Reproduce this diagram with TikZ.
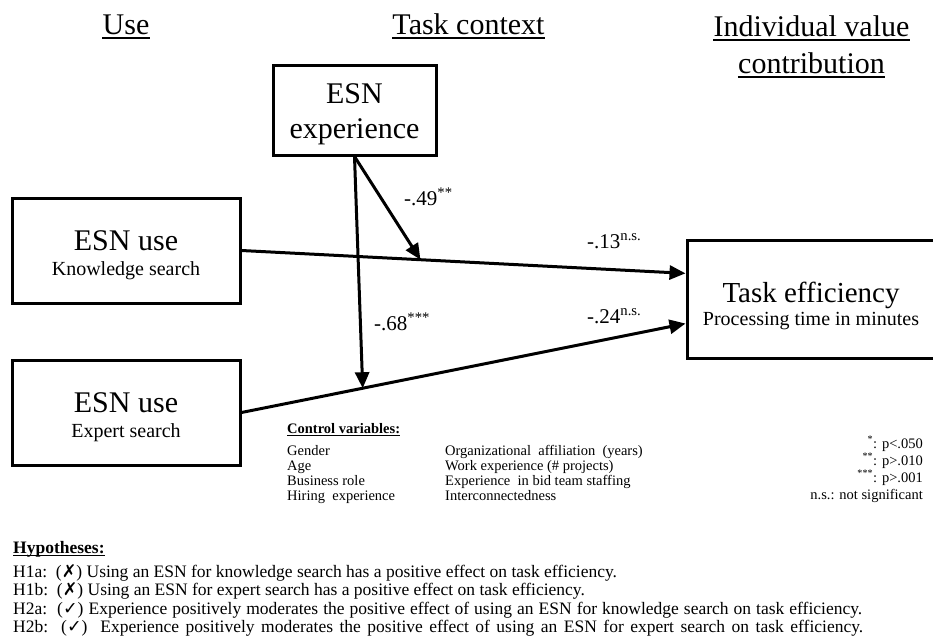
\documentclass[tikz,border=0pt]{standalone}
\usepackage{fontspec}
\setmainfont{Liberation Serif}
\newfontfamily\symfont{DejaVu Sans}
\usetikzlibrary{arrows.meta,calc}

\begin{document}
\begin{tikzpicture}[x=1pt,y=-1pt,
  box/.style={draw,line width=3pt,inner sep=0pt},
  txt/.style={inner sep=0pt,anchor=base},
  txtl/.style={inner sep=0pt,anchor=base west},
  txtr/.style={inner sep=0pt,anchor=base east},
  big/.style={font=\fontsize{30}{36}\selectfont},
  mid/.style={font=\fontsize{20}{24}\selectfont},
  coef/.style={txtl,font=\fontsize{21}{25}\selectfont},
  small/.style={font=\fontsize{14.5}{17}\selectfont},
  hyp/.style={font=\fontsize{17.5}{19}\selectfont},
  link/.style={line width=3pt,-{Triangle[length=16pt,width=14pt]}},
  uline/.style={line width=1.3pt}]
\useasboundingbox (0,0) rectangle (933,637);

% column headings
\node[txt,big] (hUse) at (126,34) {Use};
\node[txt,big] (hTask) at (468.5,34) {Task context};
\node[txt,big] (hInd1) at (811.5,36) {Individual value};
\node[txt,big] (hInd2) at (811.5,73) {contribution};
\foreach \h in {hUse,hTask,hInd1,hInd2}
  \draw[uline] ([yshift=-4pt]\h.base west) -- ([yshift=-4pt]\h.base east);

% construct boxes
\node[box,minimum width=228pt,minimum height=105pt] (ks) at (126,250.5) {};
\node[box,minimum width=228pt,minimum height=105pt] (es) at (126,412.5) {};
\node[box,minimum width=163pt,minimum height=90pt] (ex) at (354.5,110) {};
\node[box,minimum width=260pt,minimum height=118pt] (te) at (817,299) {};

% box texts
\node[txt,big] (ksA) at (126,250) {ESN use};
\node[txt,mid] (ksB) at (126,275) {Knowledge search};
\node[txt,big] (esA) at (126,412) {ESN use};
\node[txt,mid] (esB) at (126,437) {Expert search};
\node[txt,big] (exA) at (354.5,103) {ESN};
\node[txt,big] (exB) at (354.5,138) {experience};
\node[txt,font=\fontsize{29}{34}\selectfont] (teA) at (811,302) {Task efficiency};
\node[txt,mid] (teB) at (811,325) {Processing time in minutes};

% paths
\coordinate (kin) at ($(te.north west)!0.288!(te.south west)$);
\coordinate (ein) at ($(te.north west)!0.703!(te.south west)$);
\draw[link] (ks.east) -- (kin);
\draw[link] (es.east) -- (ein);
\coordinate (km) at ($(ks.east)!0.403!(kin)$);
\coordinate (em) at ($(es.east)!0.273!(ein)$);
\draw[link] (ex.south) -- (km);
\draw[link] (ex.south) -- (em);

% path coefficients
\node[coef] (c49) at (404,205) {-.49\textsuperscript{**}};
\node[coef] (c13) at (587,248) {-.13\textsuperscript{n.s.}};
\node[coef] (c24) at (587,323) {-.24\textsuperscript{n.s.}};
\node[coef] (c68) at (374,330) {-.68\textsuperscript{***}};

% control variables
\node[txtl,small] (cvH) at (287,433) {\textbf{Control variables:}};
\draw[uline,line width=0.8pt] ([yshift=-2pt]cvH.base west) -- ([yshift=-2pt]cvH.base east);
\node[txtl,small] (cv1) at (287,455) {Gender};
\node[txtl,small] (cv2) at (287,470) {Age};
\node[txtl,small] (cv3) at (287,485) {Business role};
\node[txtl,small] (cv4) at (287,500) {Hiring\ \ experience};
\node[txtl,small] (cv5) at (445,455) {Organizational\ \ affiliation\ \ (years)};
\node[txtl,small] (cv6) at (445,470) {Work experience (\# projects)};
\node[txtl,small] (cv7) at (445,485) {Experience\ \ in bid team staffing};
\node[txtl,small] (cv8) at (445,500) {Interconnectedness};

% significance levels
\node[txtr,small] (s1) at (923,448) {\textsuperscript{*}: p<.050};
\node[txtr,small] (s2) at (923,465) {\textsuperscript{**}: p>.010};
\node[txtr,small] (s3) at (923,482) {\textsuperscript{***}: p>.001};
\node[txtr,small] (s4) at (923,499) {n.s.: not significant};

% hypotheses
\node[txtl,hyp] (hyH) at (13,553) {\textbf{Hypotheses:}};
\draw[uline,line width=0.9pt] ([yshift=-2pt]hyH.base west) -- ([yshift=-2pt]hyH.base east);
\node[txtl,hyp] (h1a) at (13,577) {H1a:\ \ ({\symfont\char"2717}) Using an ESN for knowledge search has a positive effect on task efficiency.};
\node[txtl,hyp] (h1b) at (13,595) {H1b:\ \ ({\symfont\char"2717}) Using an ESN for expert search has a positive effect on task efficiency.};
\node[txtl,hyp] (h2a) at (13,614) {\hbox to 849pt{H2a:\ \ ({\symfont\char"2713}) Experience positively moderates the positive effect of using an ESN for knowledge search on task efficiency.}};
\node[txtl,hyp] (h2b) at (13,632) {\hbox to 850pt{H2b:\ \ ({\symfont\char"2713})\ \ Experience positively moderates the positive effect of using an ESN for expert search on task efficiency.}};
\end{tikzpicture}
\end{document}
